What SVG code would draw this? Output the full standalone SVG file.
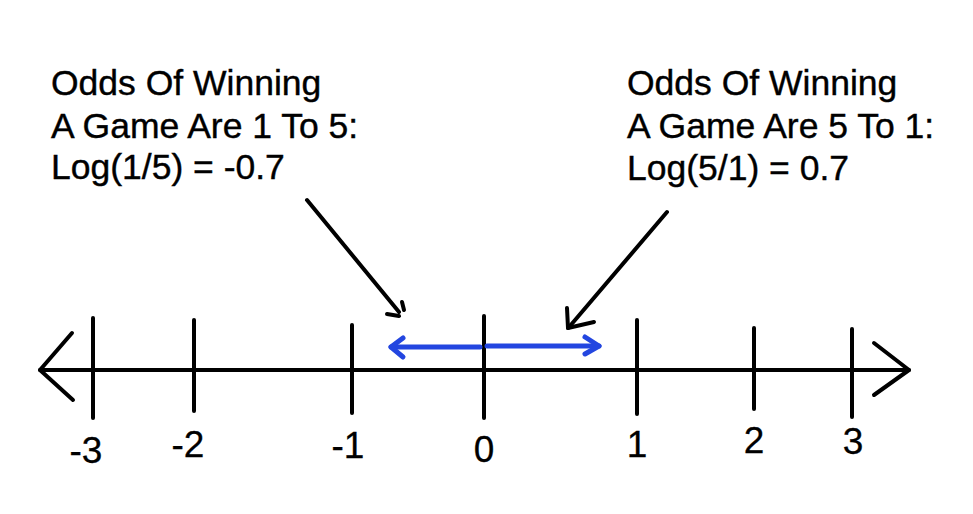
<svg xmlns="http://www.w3.org/2000/svg" width="973" height="514" viewBox="0 0 973 514">
<style>
.ln{stroke:#000;stroke-width:4;stroke-linecap:round;stroke-linejoin:round;fill:none}
.bl{stroke:#2346E0;stroke-width:5;stroke-linecap:round;stroke-linejoin:round;fill:none}
.t{font-family:"Liberation Sans",Arial,sans-serif;font-size:35.5px;fill:#000;stroke:#000;stroke-width:0.4}
.n{font-family:"Liberation Sans",Arial,sans-serif;font-size:37px;fill:#000;stroke:#000;stroke-width:0.3;text-anchor:middle}
</style>
<rect width="973" height="514" fill="#fff"/>
<g id="axis">
<line class="ln" x1="40" y1="370" x2="909" y2="370"/>
<polyline class="ln" points="72,333 40,370 73,400"/>
<polyline class="ln" points="874,343 909,370 874,395"/>
</g>
<g id="ticks">
<line class="ln" x1="93" y1="318" x2="93" y2="418"/>
<line class="ln" x1="194" y1="320" x2="194" y2="411"/>
<line class="ln" x1="352" y1="325" x2="352" y2="413"/>
<line class="ln" x1="484" y1="316" x2="484" y2="418"/>
<line class="ln" x1="637" y1="320" x2="637" y2="414"/>
<line class="ln" x1="754" y1="328" x2="754" y2="409"/>
<line class="ln" x1="852" y1="329" x2="852" y2="417"/>
</g>
<g id="tick-labels">
<text class="n" x="86" y="463">-3</text>
<text class="n" x="188" y="457">-2</text>
<text class="n" x="348" y="458">-1</text>
<text class="n" x="484" y="462">0</text>
<text class="n" x="637" y="457">1</text>
<text class="n" x="754" y="453">2</text>
<text class="n" x="853" y="454">3</text>
</g>
<g id="label-left">
<text class="t" x="51" y="95">Odds Of Winning</text>
<text class="t" x="51" y="138">A Game Are 1 To 5:</text>
<text class="t" x="51" y="179">Log(1/5) = -0.7</text>
</g>
<g id="label-right">
<text class="t" x="627" y="95">Odds Of Winning</text>
<text class="t" x="627" y="138">A Game Are 5 To 1:</text>
<text class="t" x="627" y="180">Log(5/1) = 0.7</text>
</g>
<g id="connectors">
<g id="blue-range">
<line class="bl" x1="391" y1="347" x2="480" y2="347"/>
<polyline class="bl" points="403,338 391,347 403,357"/>
<line class="bl" x1="487" y1="346" x2="599" y2="346"/>
<polyline class="bl" points="585,337 599,346 585,354"/>
</g>
<g id="pointer-left">
<line class="ln" x1="307" y1="200" x2="399" y2="312"/>
<line class="ln" x1="387" y1="314" x2="399" y2="316"/>
<line class="ln" x1="402" y1="302" x2="404" y2="310"/>
</g>
<g id="pointer-right">
<line class="ln" x1="667" y1="212" x2="570" y2="326"/>
<line class="ln" x1="567" y1="308" x2="568" y2="328"/>
<line class="ln" x1="568" y1="328" x2="594" y2="322"/>
</g>
</g>
</svg>
